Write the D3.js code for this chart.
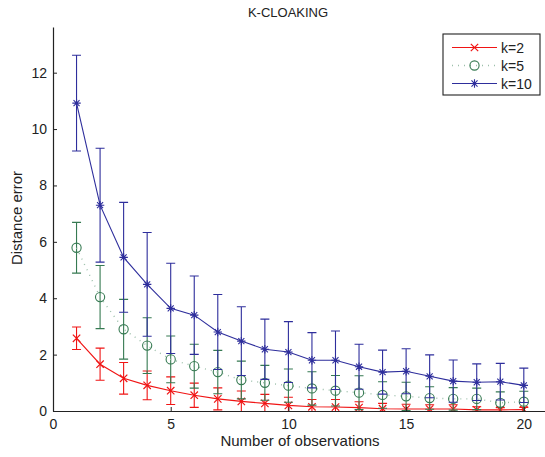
<!DOCTYPE html>
<html>
<head>
<meta charset="utf-8">
<script src="https://cdn.jsdelivr.net/npm/d3@7"></script>
<style>
  body { margin: 0; background: #fff; }
  text { font-family: "Liberation Sans", Arial, sans-serif; }
</style>
</head>
<body>
<div id="chart"></div>
<script>
const observations = d3.range(1, 21);

// mean distance error per series
const k2Mean = [2.58, 1.66, 1.16, 0.91, 0.72, 0.56, 0.43, 0.34, 0.27, 0.20,
                0.15, 0.14, 0.12, 0.08, 0.07, 0.07, 0.07, 0.04, 0.04, 0.05];
const k2Err = [0.40, 0.57, 0.56, 0.51, 0.49, 0.43, 0.39, 0.37, 0.32, 0.29,
               0.26, 0.27, 0.21, 0.19, 0.17, 0.15, 0.15, 0.11, 0.08, 0.08];

const k5Mean = [5.79, 4.04, 2.90, 2.32, 1.83, 1.59, 1.38, 1.10, 1.00, 0.90,
                0.80, 0.72, 0.65, 0.57, 0.52, 0.46, 0.43, 0.43, 0.29, 0.33];
const k5Err = [0.90, 1.12, 1.06, 0.99, 0.83, 0.78, 0.77, 0.67, 0.62, 0.59,
               0.59, 0.54, 0.60, 0.47, 0.50, 0.40, 0.40, 0.38, 0.39, 0.37];

const k10Mean = [10.92, 7.30, 5.45, 4.49, 3.64, 3.40, 2.80, 2.48, 2.19, 2.09,
                 1.80, 1.80, 1.57, 1.38, 1.41, 1.23, 1.06, 1.02, 1.04, 0.91];
const k10Err = [1.70, 2.02, 1.95, 1.84, 1.60, 1.39, 1.33, 1.22, 1.07, 1.08,
                0.98, 1.04, 0.80, 0.78, 0.80, 0.76, 0.75, 0.65, 0.65, 0.61];

const xTicks = [0, 5, 10, 15, 20];
const yTicks = [0, 2, 4, 6, 8, 10, 12];

const series = [
  {name: 'k=2', mean: k2Mean, err: k2Err, color: '#f01414', dash: null, marker: 'x'},
  {name: 'k=5', mean: k5Mean, err: k5Err, color: '#367a52', dash: '1,5', marker: 'o', lineColor: '#9cbfaa'},
  {name: 'k=10', mean: k10Mean, err: k10Err, color: '#2e2e9c', dash: null, marker: '*'}
];

const width = 545, height = 457;
const margin = {left: 53, bottom: 411, top: 27, right: 545};

const x = d3.scaleLinear().domain([0, 20.9]).range([margin.left, margin.right]);
const y = d3.scaleLinear().domain([0, 13.62]).range([margin.bottom, margin.top]);

const svg = d3.select('#chart').append('svg')
  .attr('width', width)
  .attr('height', height);

svg.append('defs').append('clipPath')
  .attr('id', 'plot-clip')
  .append('rect')
  .attr('x', margin.left).attr('y', margin.top)
  .attr('width', margin.right - margin.left).attr('height', margin.bottom - margin.top);

const plot = svg.append('g').attr('clip-path', 'url(#plot-clip)');

function drawMarker(g, type, cx, cy, color) {
  if (type === 'x') {
    const s = 3.7;
    g.append('path')
      .attr('d', `M${cx - s},${cy - s}L${cx + s},${cy + s}M${cx - s},${cy + s}L${cx + s},${cy - s}`)
      .attr('stroke', color).attr('stroke-width', 1.2).attr('fill', 'none');
  } else if (type === 'o') {
    g.append('circle')
      .attr('cx', cx).attr('cy', cy).attr('r', 4.6)
      .attr('stroke', color).attr('stroke-width', 1.1).attr('fill', 'none');
  } else {
    const s = 4.2;
    const d = s * 0.72;
    g.append('path')
      .attr('d', `M${cx},${cy - s}L${cx},${cy + s}M${cx - s},${cy}L${cx + s},${cy}` +
        `M${cx - d},${cy - d}L${cx + d},${cy + d}M${cx - d},${cy + d}L${cx + d},${cy - d}`)
      .attr('stroke', color).attr('stroke-width', 1.1).attr('fill', 'none');
  }
}

const line = d3.line()
  .x((d, i) => x(observations[i]))
  .y(d => y(d));

series.forEach(s => {
  const g = plot.append('g');
  // error bars
  s.mean.forEach((m, i) => {
    const cx = x(observations[i]);
    const y1 = y(m - s.err[i]);
    const y2 = y(m + s.err[i]);
    const cap = 4.5;
    g.append('path')
      .attr('d', `M${cx},${y1}L${cx},${y2}M${cx - cap},${y1}L${cx + cap},${y1}M${cx - cap},${y2}L${cx + cap},${y2}`)
      .attr('stroke', s.color)
      .attr('stroke-width', 1.1)
      .attr('fill', 'none');
  });
  g.append('path')
    .datum(s.mean)
    .attr('d', line)
    .attr('fill', 'none')
    .attr('stroke', s.lineColor || s.color)
    .attr('stroke-width', s.dash ? 1.4 : 1.1)
    .attr('stroke-dasharray', s.dash);
  s.mean.forEach((m, i) => drawMarker(g, s.marker, x(observations[i]), y(m), s.color));
});

// axes
const xAxis = svg.append('g')
  .attr('transform', `translate(0,${margin.bottom})`)
  .call(d3.axisBottom(x).tickValues(xTicks).tickSizeInner(-4).tickSizeOuter(0).tickPadding(8));
const yAxis = svg.append('g')
  .attr('transform', `translate(${margin.left},0)`)
  .call(d3.axisLeft(y).tickValues(yTicks).tickSizeInner(-4).tickSizeOuter(0).tickPadding(6));

[xAxis, yAxis].forEach(a => {
  a.select('.domain').attr('stroke', '#222').attr('stroke-width', 1.2);
  a.selectAll('.tick line').attr('stroke', '#222');
  a.selectAll('.tick text')
    .attr('font-size', 14)
    .attr('fill', '#222')
    .style('font-family', '"Liberation Sans", Arial, sans-serif');
});

svg.append('text')
  .attr('x', 288).attr('y', 17)
  .attr('text-anchor', 'middle')
  .attr('font-size', 13)
  .attr('fill', '#222')
  .text('K-CLOAKING');

svg.append('text')
  .attr('x', 300).attr('y', 446)
  .attr('text-anchor', 'middle')
  .attr('font-size', 15)
  .attr('fill', '#222')
  .text('Number of observations');

svg.append('text')
  .attr('transform', 'translate(22,218) rotate(-90)')
  .attr('text-anchor', 'middle')
  .attr('font-size', 15)
  .attr('fill', '#222')
  .text('Distance error');

// legend
const legend = svg.append('g').attr('transform', 'translate(443,34)');
legend.append('rect')
  .attr('width', 97).attr('height', 61)
  .attr('fill', '#fff')
  .attr('stroke', '#222')
  .attr('stroke-width', 1.1);
series.forEach((s, i) => {
  const ly = 13.5 + i * 18;
  legend.append('line')
    .attr('x1', 9).attr('x2', 54)
    .attr('y1', ly).attr('y2', ly)
    .attr('stroke', s.lineColor || s.color)
    .attr('stroke-width', s.dash ? 1.4 : 1.1)
    .attr('stroke-dasharray', s.dash);
  drawMarker(legend, s.marker, 31.5, ly, s.color);
  legend.append('text')
    .attr('x', 58).attr('y', ly + 5)
    .attr('font-size', 14)
    .attr('fill', '#222')
    .text(s.name);
});
</script>
</body>
</html>
